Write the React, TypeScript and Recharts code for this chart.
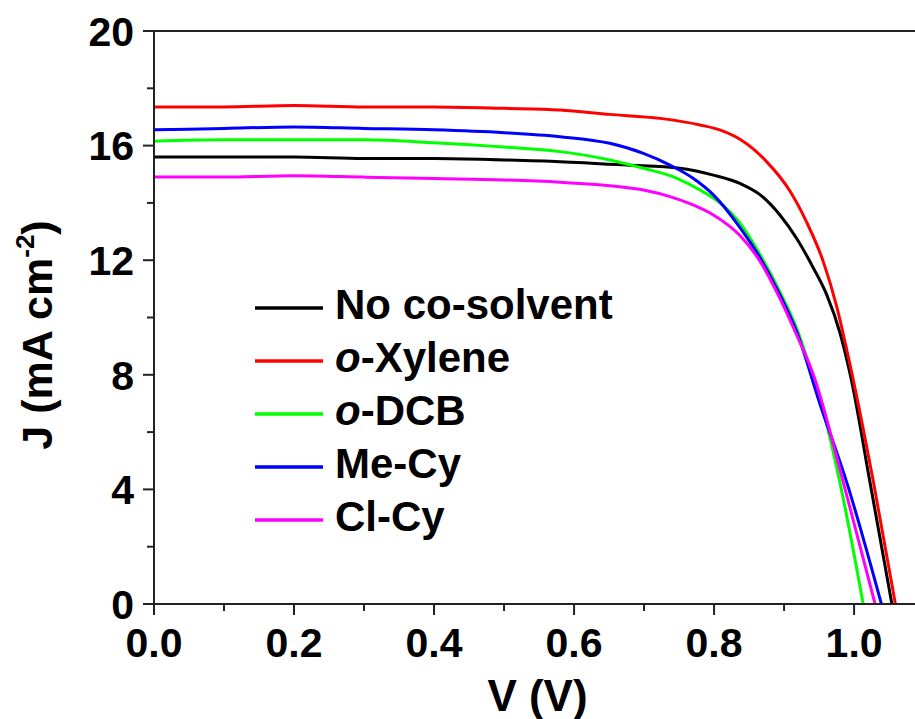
import { LineChart, Line, XAxis, YAxis, ReferenceLine, Legend, Label } from "recharts"

// J-V curves (V in volts, J in mA cm^-2)
const noCoV = [0, 0.1, 0.2, 0.3, 0.4, 0.5, 0.58, 0.675, 0.751, 0.799, 0.837, 0.866, 0.894, 0.918, 0.942, 0.961, 0.98, 0.995, 1.023, 1.054]
const noCoJ = [15.6, 15.6, 15.6, 15.55, 15.55, 15.5, 15.44, 15.32, 15.21, 14.97, 14.68, 14.28, 13.58, 12.76, 11.72, 10.79, 9.45, 7.95, 4.21, 0]

const xyleneV = [0, 0.1, 0.2, 0.3, 0.4, 0.5, 0.58, 0.651, 0.723, 0.78, 0.809, 0.837, 0.875, 0.909, 0.932, 0.956, 0.975, 0.992, 1.028, 1.059]
const xyleneJ = [17.35, 17.35, 17.4, 17.35, 17.35, 17.3, 17.24, 17.09, 16.95, 16.72, 16.54, 16.22, 15.44, 14.39, 13.34, 11.95, 10.4, 8.6, 4.21, 0]

const dcbV = [0, 0.1, 0.2, 0.3, 0.4, 0.5, 0.58, 0.651, 0.699, 0.747, 0.78, 0.809, 0.837, 0.866, 0.894, 0.918, 0.939, 0.953, 0.98, 1.013]
const dcbJ = [16.15, 16.2, 16.2, 16.2, 16.1, 15.95, 15.79, 15.5, 15.21, 14.86, 14.45, 13.99, 13.29, 12.18, 10.9, 9.62, 8.1, 7.0, 4.21, 0]

const meCyV = [0, 0.1, 0.2, 0.3, 0.4, 0.5, 0.58, 0.651, 0.699, 0.737, 0.77, 0.799, 0.837, 0.866, 0.894, 0.918, 0.951, 0.99, 1.039]
const meCyJ = [16.55, 16.6, 16.65, 16.6, 16.55, 16.45, 16.31, 16.08, 15.73, 15.32, 14.86, 14.28, 13.14, 12.07, 10.79, 9.5, 7.0, 4.21, 0]

const clCyV = [0, 0.1, 0.2, 0.3, 0.4, 0.5, 0.58, 0.651, 0.699, 0.737, 0.77, 0.799, 0.837, 0.866, 0.894, 0.918, 0.942, 0.985, 1.03]
const clCyJ = [14.9, 14.9, 14.95, 14.9, 14.85, 14.8, 14.72, 14.6, 14.45, 14.22, 13.93, 13.58, 12.86, 11.95, 10.67, 9.39, 7.99, 4.21, 0]

const xTicks = [0, 0.1, 0.2, 0.3, 0.4, 0.5, 0.6, 0.7, 0.8, 0.9, 1.0]
const yTicks = [0, 2, 4, 6, 8, 10, 12, 14, 16, 18, 20]

const toPoints = (v: number[], j: number[]) => v.map((x, i) => ({ v: x, j: j[i] }))

const series = [
  { key: "noCo", italic: "", name: "No co-solvent", color: "#000000", data: toPoints(noCoV, noCoJ) },
  { key: "xylene", italic: "o", name: "-Xylene", color: "#ff0000", data: toPoints(xyleneV, xyleneJ) },
  { key: "dcb", italic: "o", name: "-DCB", color: "#00ff00", data: toPoints(dcbV, dcbJ) },
  { key: "meCy", italic: "", name: "Me-Cy", color: "#0000ff", data: toPoints(meCyV, meCyJ) },
  { key: "clCy", italic: "", name: "Cl-Cy", color: "#ff00ff", data: toPoints(clCyV, clCyJ) },
]

const FONT = "Arial, 'Liberation Sans', sans-serif"
const AXIS = "#222"

function XTick({ x, y, payload }: any) {
  const major = Math.round(payload.value * 10) % 2 === 0
  return (
    <g>
      <line x1={x} x2={x} y1={y} y2={y + (major ? 11 : 7)} stroke={AXIS} strokeWidth={2} />
      {major && (
        <text x={x} y={y + 53} textAnchor="middle" fontSize={41} fontWeight="bold" fontFamily={FONT} fill="#000">
          {payload.value.toFixed(1)}
        </text>
      )}
    </g>
  )
}

function YTick({ x, y, payload }: any) {
  const major = payload.value % 4 === 0
  return (
    <g>
      <line x1={x} x2={x - (major ? 11 : 7)} y1={y} y2={y} stroke={AXIS} strokeWidth={2} />
      {major && (
        <text x={x - 20} y={y} dy="0.36em" textAnchor="end" fontSize={41} fontWeight="bold" fontFamily={FONT} fill="#000">
          {payload.value}
        </text>
      )}
    </g>
  )
}

function LegendBox() {
  return (
    <svg width={440} height={270}>
      {series.map((s, i) => {
        const cy = 28 + i * 53
        return (
          <g key={s.key}>
            <line x1={5} x2={73} y1={cy} y2={cy} stroke={s.color} strokeWidth={3.5} />
            <text x={85} y={cy + 11} fontSize={42} fontWeight="bold" fontFamily={FONT} fill="#000">
              {s.italic && <tspan fontStyle="italic">{s.italic}</tspan>}
              {s.name}
            </text>
          </g>
        )
      })}
    </svg>
  )
}

export default function App() {
  return (
    <div style={{ position: "absolute", left: 0, top: 0, background: "#fff" }}>
      <LineChart width={915} height={719} margin={{ top: 31, right: 0, bottom: 0, left: 0 }}>
        <XAxis
          dataKey="v"
          type="number"
          domain={[0, 1.087]}
          allowDataOverflow
          ticks={xTicks}
          interval={0}
          height={115}
          tickSize={0}
          tickMargin={0}
          tickLine={false}
          axisLine={{ stroke: AXIS, strokeWidth: 2 }}
          tick={<XTick />}
        >
          <Label
            content={({ viewBox }: any) => (
              <text
                x={viewBox.x + viewBox.width / 2 + 3}
                y={viewBox.y + 107}
                textAnchor="middle"
                fontSize={44}
                fontWeight="bold"
                fontFamily={FONT}
                fill="#000"
              >
                V (V)
              </text>
            )}
          />
        </XAxis>
        <YAxis
          type="number"
          domain={[0, 20]}
          allowDataOverflow
          ticks={yTicks}
          interval={0}
          width={154}
          tickSize={0}
          tickMargin={0}
          tickLine={false}
          axisLine={{ stroke: AXIS, strokeWidth: 2 }}
          tick={<YTick />}
        >
          <Label
            content={() => {
              const cx = 52
              const cy = 335
              return (
                <text
                  x={cx}
                  y={cy}
                  transform={`rotate(-90, ${cx}, ${cy})`}
                  textAnchor="middle"
                  fontSize={43}
                  fontWeight="bold"
                  fontFamily={FONT}
                  fill="#000"
                >
                  J (mA cm
                  <tspan fontSize={26} dy={-18}>-2</tspan>
                  <tspan dy={18}>)</tspan>
                </text>
              )
            }}
          />
        </YAxis>
        <ReferenceLine y={20} stroke={AXIS} strokeWidth={2} ifOverflow="visible" />
        {series.map((s) => (
          <Line
            key={s.key}
            data={s.data}
            dataKey="j"
            name={s.key}
            type="monotone"
            stroke={s.color}
            strokeWidth={3}
            dot={false}
            isAnimationActive={false}
          />
        ))}
        <Legend
          layout="vertical"
          align="center"
          verticalAlign="middle"
          content={() => <LegendBox />}
          wrapperStyle={{ left: 250, top: 280, width: 440, height: 270 }}
        />
      </LineChart>
    </div>
  )
}
